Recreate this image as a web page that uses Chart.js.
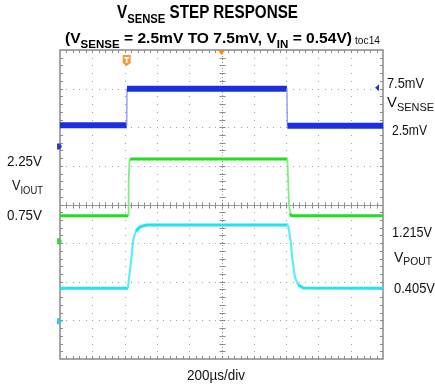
<!DOCTYPE html>
<html><head><meta charset="utf-8">
<script src="https://cdn.jsdelivr.net/npm/chart.js@4"></script>
<style>
html,body{margin:0;padding:0;background:#fff;}
#wrap{position:relative;width:435px;height:388px;overflow:hidden;background:#fff;}
canvas{position:absolute;left:0;top:0;}
.lab{position:absolute;white-space:nowrap;font-family:"Liberation Sans",Arial,sans-serif;color:#111;line-height:1;transform-origin:0 0;}
.b{font-weight:bold;color:#000;}
.sub{font-size:0.74em;position:relative;top:0.36em;}
</style></head>
<body><div id="wrap"><canvas id="c" width="435" height="388"></canvas></div>
<script>
// ---- data (time in µs, 200 µs/div; levels in screen divisions from centre) ----
const vsenseTimeUs = [0, 413, 415, 1405, 1408, 2000];
const vsenseDiv    = [2.05, 2.05, 3.0, 3.0, 2.04, 2.04];
const ioutTimeUs   = [0, 422, 425, 430, 434, 1408, 1412, 1418, 1426, 1432, 2000];
const ioutDiv      = [-0.29, -0.29, 0.6, 1.1, 1.18, 1.18, 0.7, 0.0, -0.24, -0.29, -0.29];
const poutTimeUs   = [0, 421, 426, 444, 454, 470, 495, 537, 1410, 1414, 1428, 1440, 1455, 1475, 1506, 2000];
const poutDiv      = [-2.17, -2.17, -1.95, -1.3, -0.9, -0.69, -0.58, -0.53, -0.53, -0.57, -0.94, -1.46, -1.89, -2.08, -2.16, -2.17];
const vsenseLevels = ['7.5mV', '2.5mV'];
const ioutLevels   = ['2.25V', '0.75V'];
const poutLevels   = ['1.215V', '0.405V'];
const timeBase     = '200µs/div';

function pts(t, v){ return t.map((x,i)=>({x:x, y:v[i]})); }
function edgeSeg(fast, slow, wFast, wSlow){
  return {
    borderColor: c => Math.abs(c.p1.y - c.p0.y) > 2*Math.abs(c.p1.x - c.p0.x) ? fast : slow,
    borderWidth: c => Math.abs(c.p1.y - c.p0.y) > 2*Math.abs(c.p1.x - c.p0.x) ? wFast : wSlow
  };
}

const graticule = {
  id:'graticule',
  beforeDatasetsDraw(chart){
    const {ctx, chartArea:a, scales:{x, y}} = chart;
    ctx.save();
    // dotted grid
    ctx.fillStyle = '#a0a0a0';
    for (let i = 1; i < 10; i++){
      if (i === 5) continue;
      const px = Math.round(x.getPixelForValue(i*200));
      for (let k = 0; k <= 40; k++){
        const py = Math.round(y.getPixelForValue(-4 + k*0.2));
        ctx.fillRect(px, py, 1, 1);
      }
    }
    for (let j = 1; j < 8; j++){
      if (j === 4) continue;
      const py = Math.round(y.getPixelForValue(-4 + j));
      for (let k = 0; k <= 50; k++){
        const px = Math.round(x.getPixelForValue(k*40));
        ctx.fillRect(px, py, 1, 1);
      }
    }
    // centre cross
    ctx.lineWidth = 1;
    const cx = Math.round(x.getPixelForValue(1000)) + 0.5;
    const cy = Math.round(y.getPixelForValue(0)) + 0.5;
    ctx.strokeStyle = '#9a9a9a';
    ctx.beginPath();
    ctx.moveTo(a.left, cy); ctx.lineTo(a.right, cy);
    ctx.stroke();
    ctx.setLineDash([1, 2]);
    ctx.beginPath();
    ctx.moveTo(cx, a.top); ctx.lineTo(cx, a.bottom);
    ctx.stroke();
    ctx.setLineDash([]);
    ctx.strokeStyle = '#8c8c8c';
    ctx.beginPath();
    for (let k = 1; k < 50; k++){
      const px = Math.round(x.getPixelForValue(k*40)) + 0.5;
      ctx.moveTo(px, cy-3); ctx.lineTo(px, cy+3);
      ctx.moveTo(px, a.top); ctx.lineTo(px, a.top+3);
      ctx.moveTo(px, a.bottom); ctx.lineTo(px, a.bottom-3);
    }
    for (let k = 1; k < 40; k++){
      const py = Math.round(y.getPixelForValue(-4 + k*0.2)) + 0.5;
      ctx.moveTo(cx-3, py); ctx.lineTo(cx+3, py);
      ctx.moveTo(a.left, py); ctx.lineTo(a.left+3, py);
      ctx.moveTo(a.right, py); ctx.lineTo(a.right-3, py);
    }
    ctx.stroke();
    // border
    ctx.strokeStyle = '#8a8a8a';
    ctx.lineWidth = 1.5;
    ctx.strokeRect(a.left, a.top, a.right - a.left, a.bottom - a.top);
    ctx.restore();
  },
  afterDatasetsDraw(chart){
    const {ctx, chartArea:a, scales:{x, y}} = chart;
    ctx.save();
    // trigger marker (top centre)
    const cx = x.getPixelForValue(1000);
    ctx.fillStyle = '#f08a1c';
    ctx.beginPath();
    ctx.moveTo(cx-3.5, a.top); ctx.lineTo(cx+3.5, a.top); ctx.lineTo(cx, a.top+5); ctx.closePath(); ctx.fill();
    // "T" trigger position marker
    const tx = x.getPixelForValue(413);
    ctx.fillStyle = '#f39a3a';
    ctx.beginPath();
    ctx.moveTo(tx-4, a.top+5); ctx.lineTo(tx+4, a.top+5); ctx.lineTo(tx+4, a.top+13);
    ctx.lineTo(tx, a.top+16); ctx.lineTo(tx-4, a.top+13); ctx.closePath(); ctx.fill();
    ctx.fillStyle = '#fff';
    ctx.fillRect(tx-2.5, a.top+7, 5, 1.5);
    ctx.fillRect(tx-0.75, a.top+7, 1.5, 6);
    // channel ground markers on left
    const mk = (py, col) => {
      ctx.fillStyle = col;
      ctx.beginPath();
      ctx.moveTo(a.left-3, py-3); ctx.lineTo(a.left, py-3); ctx.lineTo(a.left+2, py);
      ctx.lineTo(a.left, py+3); ctx.lineTo(a.left-3, py+3); ctx.closePath(); ctx.fill();
    };
    mk(y.getPixelForValue(1.5), '#2a3ccf');
    mk(y.getPixelForValue(-0.95), '#3ad24a');
    mk(y.getPixelForValue(-3.02), '#3cc8d8');
    // blue reference arrow on right
    const ry = y.getPixelForValue(3.02);
    ctx.fillStyle = '#2236d8';
    ctx.beginPath();
    ctx.moveTo(a.right-8, ry); ctx.lineTo(a.right-4, ry-3.5); ctx.lineTo(a.right-4, ry+3.5); ctx.closePath(); ctx.fill();
    ctx.restore();
  }
};

new Chart(document.getElementById('c'), {
  type:'line',
  data:{datasets:[
    {label:'VSENSE', data:pts(vsenseTimeUs, vsenseDiv), borderColor:'#1b2fe0',
     segment:edgeSeg('rgba(140,150,255,0.9)', '#1b2fe0', 1.5, 6)},
    {label:'VIOUT', data:pts(ioutTimeUs, ioutDiv), borderColor:'#1fe01f',
     segment:edgeSeg('#7ef07e', '#1fe01f', 1.8, 3)},
    {label:'VPOUT', data:pts(poutTimeUs, poutDiv), borderColor:'#1ee4f2',
     segment:edgeSeg('#5beefa', '#1ee4f2', 2.2, 3)}
  ]},
  options:{
    responsive:false, animation:false, devicePixelRatio:1,
    layout:{padding:{left:60, right:52, top:50, bottom:29}},
    plugins:{legend:{display:false}, tooltip:{enabled:false}},
    scales:{
      x:{type:'linear', min:0, max:2000, display:false},
      y:{type:'linear', min:-4, max:4, display:false}
    },
    elements:{point:{radius:0}, line:{tension:0, borderJoinStyle:'round'}}
  },
  plugins:[graticule]
});

// ---- text labels ----
const wrap = document.getElementById('wrap');
function addLabel(html, left, baseline, size, width, bold){
  const d = document.createElement('div');
  d.className = 'lab' + (bold ? ' b' : '');
  d.innerHTML = html;
  d.style.fontSize = size + 'px';
  d.style.left = left + 'px';
  d.style.top = (baseline - 0.8465*size) + 'px';
  wrap.appendChild(d);
  if (width){
    const w = d.getBoundingClientRect().width;
    d.style.transform = 'scaleX(' + (width / w) + ')';
  }
}
addLabel('V<span class="sub">SENSE</span> STEP RESPONSE', 117, 18.5, 18.5, 181, true);
addLabel('(V<span class="sub">SENSE</span> = 2.5mV TO 7.5mV, V<span class="sub">IN</span> = 0.54V)', 65, 43.5, 15.5, 287, true);
addLabel('toc14', 355, 44, 10, 25, false);
addLabel(vsenseLevels[0], 387, 88, 14, 37, false);
addLabel('V<span class="sub">SENSE</span>', 387, 107, 14, 47, false);
addLabel(vsenseLevels[1], 392, 135, 14, 35, false);
addLabel(ioutLevels[0], 7, 166, 14, 35, false);
addLabel('V<span class="sub">IOUT</span>', 12, 190, 14, 31, false);
addLabel(ioutLevels[1], 7, 220, 14, 35, false);
addLabel(poutLevels[0], 392, 236.5, 14, 40, false);
addLabel('V<span class="sub">POUT</span>', 394, 261.5, 14, 38, false);
addLabel(poutLevels[1], 394, 293, 14, 41, false);
addLabel(timeBase, 187, 379.5, 14, 58, false);
</script>
</body></html>
